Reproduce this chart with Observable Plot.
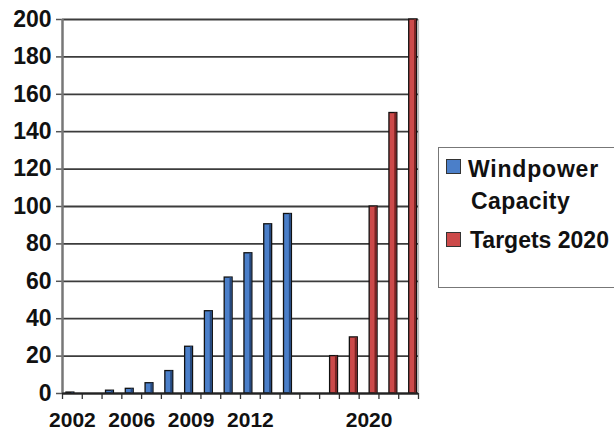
<!DOCTYPE html>
<html>
<head>
<meta charset="utf-8">
<script src="https://cdn.jsdelivr.net/npm/d3@7"></script>
<script src="https://cdn.jsdelivr.net/npm/@observablehq/plot@0.6"></script>
<style>
  html, body { margin: 0; padding: 0; background: #fff; overflow: hidden; }
  #wrap { position: relative; width: 614px; height: 431px; overflow: hidden; font-family: "Liberation Sans", Arial, sans-serif; }
  #legend-box { position: absolute; left: 438px; top: 147px; width: 200px; height: 141px; border: 1.5px solid #777; box-sizing: border-box; }
  .sw { position: absolute; width: 15px; height: 15px; box-sizing: border-box; border: 1px solid #333; }
  .lt { position: absolute; font-size: 23px; line-height: 23px; font-weight: bold; color: #111; white-space: nowrap; }
</style>
</head>
<body>
<div id="wrap"></div>
<script>
// ---- data ----
const tickLabels = ["2002","","","2006","","","2009","","","2012","","","","","","2020","",""];
const windpower = [0.5, null, 1.5, 2.5, 5.5, 12, 25, 44, 62, 75, 90.5, 96, null, null, null, null, null, null];
const targets2020 = [null, null, null, null, null, null, null, null, null, null, null, null, null, 20, 30, 100, 150, 200];
const yTicks = [0, 20, 40, 60, 80, 100, 120, 140, 160, 180, 200];
const seriesNames = ["Windpower Capacity", "Targets 2020"];

const blue = "#4b7fc9", blueDark = "#26497e";
const red = "#cc4a4a", redDark = "#7a2323";

const blueRows = windpower.map((v, i) => ({i, v})).filter(d => d.v != null);
const redRows = targets2020.map((v, i) => ({i, v})).filter(d => d.v != null);
const n = tickLabels.length;
const labelPos = tickLabels.map((l, i) => l ? i + 0.5 : null).filter(v => v != null);

const chart = Plot.plot({
  width: 614,
  height: 431,
  marginLeft: 62,
  marginRight: 196,
  marginTop: 19,
  marginBottom: 38,
  x: {domain: [0, n], axis: null},
  y: {domain: [0, 200], axis: null},
  style: {fontFamily: "'Liberation Sans', Arial, sans-serif", fontWeight: "bold", background: "white", color: "#111", overflow: "visible"},
  marks: [
    Plot.gridY({ticks: yTicks, stroke: "#3c3c3c", strokeOpacity: 1, strokeWidth: 1.8}),
    Plot.ruleX([n], {stroke: "#bbb", strokeWidth: 1.2}),
    Plot.axisY({ticks: yTicks, tickSize: 6, tickPadding: 5, fontSize: 23, label: null, stroke: "#555", strokeWidth: 1.5}),
    Plot.axisX({ticks: d3.range(n + 1), tickFormat: () => "", tickSize: 6, stroke: "#333", strokeWidth: 1.3, label: null}),
    Plot.axisX({ticks: labelPos, tickFormat: v => tickLabels[Math.floor(v)], tickSize: 0, tickPadding: 19, fontSize: 21, label: null}),
    // blue bars
    Plot.rect(blueRows, {x1: d => d.i + 0.2, x2: d => d.i + 0.6, y1: 0, y2: "v", fill: blue, stroke: "#111", strokeWidth: 1.3}),
    Plot.rect(blueRows, {x1: d => d.i + 0.47, x2: d => d.i + 0.57, y1: 0, y2: "v", fill: blueDark}),
    // red bars
    Plot.rect(redRows, {x1: d => d.i + 0.53, x2: d => d.i + 0.93, y1: 0, y2: "v", fill: red, stroke: "#111", strokeWidth: 1.3}),
    Plot.rect(redRows, {x1: d => d.i + 0.8, x2: d => d.i + 0.9, y1: 0, y2: "v", fill: redDark}),
    Plot.ruleX([0], {stroke: "#777", strokeWidth: 2.5}),
    Plot.ruleY([0], {stroke: "#222", strokeWidth: 2})
  ]
});

const wrap = document.getElementById("wrap");
wrap.appendChild(chart);

// legend (HTML overlay on the right)
const box = document.createElement("div");
box.id = "legend-box";
wrap.appendChild(box);
const items = [
  {color: blue, lines: ["Windpower", "Capacity"], swTop: 159, tops: [157.5, 189.5], lefts: [468, 471], spacing: ["0.8px", "0.4px"]},
  {color: red, lines: ["Targets 2020"], swTop: 232, tops: [228.5], lefts: [470], spacing: ["0px"]}
];
items.forEach(it => {
  const sw = document.createElement("div");
  sw.className = "sw";
  sw.style.left = "446px";
  sw.style.top = it.swTop + "px";
  sw.style.background = it.color;
  wrap.appendChild(sw);
  it.lines.forEach((t, k) => {
    const s = document.createElement("div");
    s.className = "lt";
    s.textContent = t;
    s.style.left = it.lefts[k] + "px";
    s.style.top = it.tops[k] + "px";
    s.style.letterSpacing = it.spacing[k];
    wrap.appendChild(s);
  });
});
</script>
</body>
</html>
